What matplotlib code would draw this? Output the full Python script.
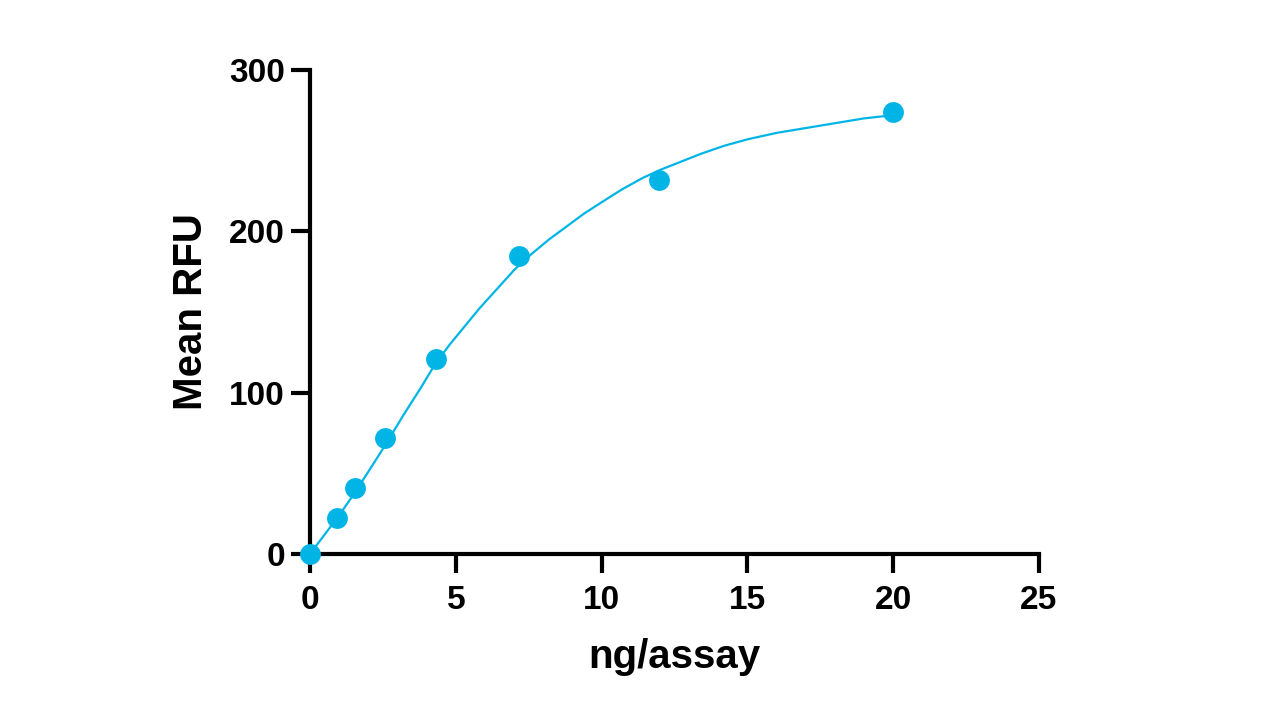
import matplotlib
matplotlib.use("Agg")
import matplotlib.pyplot as plt

# data -------------------------------------------
conc = [0, 0.93, 1.54, 2.57, 4.32, 7.17, 11.97, 20.0]        # ng/assay
rfu = [0, 22, 41, 72, 121, 185, 232, 274]                    # Mean RFU

# fitted curve
fit_x = [0, 0.5, 1, 1.5, 2, 2.6, 3.2, 3.8, 4.3, 4.8, 5.3, 5.8, 6.4, 7, 7.6,
         8.2, 8.8, 9.4, 10, 10.7, 11.4, 12, 12.7, 13.4, 14.2, 15, 16, 17,
         18, 19, 20]
fit_y = [0, 12, 24, 37, 51, 68, 86, 103, 118, 130, 141, 152, 164, 176, 186,
         195, 203, 211, 218, 226, 233, 238, 243, 248, 253, 257, 261, 264,
         267, 270, 272]

xticks = [0, 5, 10, 15, 20, 25]
yticks = [0, 100, 200, 300]
# -------------------------------------------------

color = '#00B5E6'
plt.rcParams['font.family'] = ['Liberation Sans', 'DejaVu Sans']
plt.rcParams['font.weight'] = 'bold'

fig = plt.figure(figsize=(12.8, 7.2), dpi=100)
fig.patch.set_facecolor('white')
ax = fig.add_axes([0.2422, 0.2306, 0.5695, 0.6722])

ax.plot(fit_x, fit_y, color=color, lw=1.6, zorder=2)
ax.plot(conc, rfu, 'o', color=color, ms=15, mec='none', zorder=3, clip_on=False)

ax.set_xlim(0, 25)
ax.set_ylim(0, 300)
ax.set_xticks(xticks)
ax.set_yticks(yticks)

for s in ['top', 'right']:
    ax.spines[s].set_visible(False)
for s in ['left', 'bottom']:
    ax.spines[s].set_linewidth(3)
ax.tick_params(width=3, length=14, labelsize=24)
ax.tick_params(axis='y', pad=4)
ax.tick_params(axis='x', pad=8)
for lab in ax.get_xticklabels() + ax.get_yticklabels():
    lab.set_fontweight('bold')

ax.set_xlabel('ng/assay', fontsize=29, fontweight='bold', labelpad=16)
ax.set_ylabel('Mean RFU', fontsize=29, fontweight='bold', labelpad=14)

fig.savefig('out.png', dpi=100)
